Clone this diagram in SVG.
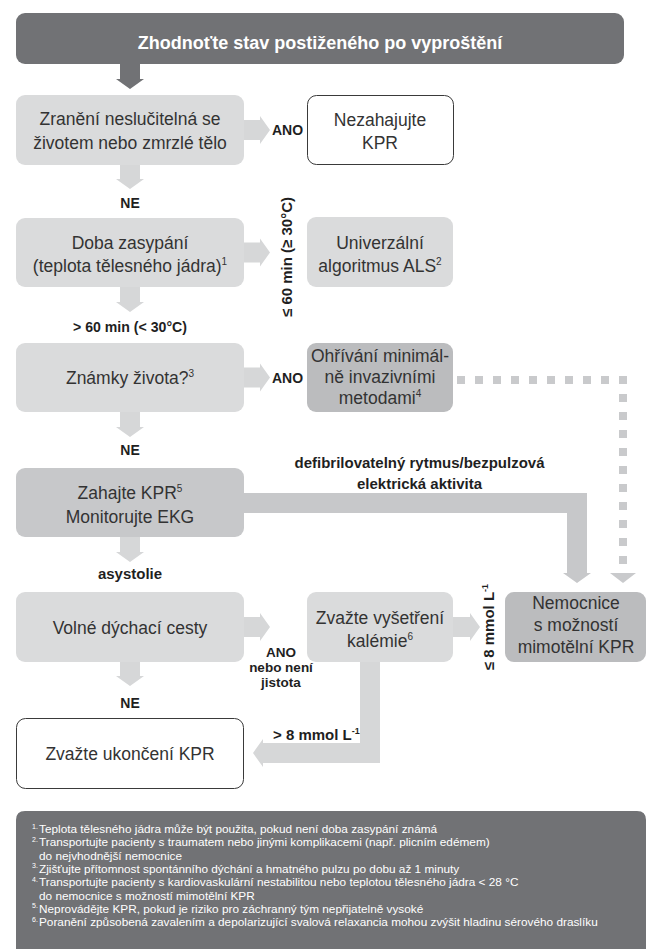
<svg xmlns="http://www.w3.org/2000/svg" width="647" height="949" viewBox="0 0 647 949">
<style>
text{font-family:"Liberation Sans",Arial,Helvetica,sans-serif}
.nt{font-size:17.5px;fill:#333;text-anchor:middle}
.ti{font-size:18px;font-weight:bold;fill:#fff;text-anchor:middle}
.lb{font-size:14px;font-weight:bold;fill:#1f1f1f}
.lb15{font-size:15px;font-weight:bold;fill:#1f1f1f}
.lbs{font-size:13.5px;font-weight:bold;fill:#1f1f1f;text-anchor:middle}
.mid{text-anchor:middle}
.ft{font-size:11.8px;fill:#fff}
.fs{font-size:7px;fill:#fff}
.sup{font-size:10px}
.dark{fill:#717275}
.light{fill:#dadbdc}
.med{fill:#c7c8ca}
.deep{fill:#bbbcbe}
.white{fill:#fff;stroke:#3a3a3a;stroke-width:1}
.arL{fill:#d6d7d8}
.arM{fill:#c7c8ca}
.dot{fill:none;stroke:#c9cacc;stroke-width:8;stroke-dasharray:8 10}
</style>

<g id="connectors">
  <polygon id="a0" class="dark" points="120,63 140,63 140,79 144,79 130,89 116,79 120,79"/>
  <polygon id="a1" class="arL" points="243,120 260,120 260,116 270,130 260,144 260,140 243,140"/>
  <polygon id="a2" class="arL" points="120,164 140,164 140,179 144,179 130,189 116,179 120,179"/>
  <polygon id="a3" class="arL" points="243,242.5 260,242.5 260,238.5 270,252.5 260,266.5 260,262.5 243,262.5"/>
  <polygon id="a4" class="arL" points="120,286 140,286 140,302 144,302 130,312 116,302 120,302"/>
  <polygon id="a5" class="arL" points="243,367.5 260,367.5 260,363.5 270,377.5 260,391.5 260,387.5 243,387.5"/>
  <polygon id="a6" class="arL" points="120,411 140,411 140,427 144,427 130,437 116,427 120,427"/>
  <polygon id="a7" class="arM" points="243,493 587,493 587,573 591,573 577,583 563,573 567,573 567,513 243,513"/>
  <path id="a8" class="dot" d="M457,380 H623 V566"/>
  <polygon id="a8h" fill="#c9cacc" points="610,573 636,573 623,583"/>
  <polygon id="a9" class="arL" points="120,536 140,536 140,552 144,552 130,562 116,552 120,552"/>
  <polygon id="a10" class="arL" points="243,617 260,617 260,613 270,627 260,641 260,637 243,637"/>
  <polygon id="a11" class="arL" points="120,661 140,661 140,676 144,676 130,686 116,676 120,676"/>
  <polygon id="a12" class="arL" points="452,617 470,617 470,613 480,627 470,641 470,637 452,637"/>
  <polygon id="a13" class="arL" points="360,661 380,661 380,763 263,763 263,767 253,753 263,739 263,743 360,743"/>

  <text class="lb" x="272" y="135">ANO</text>
  <text class="lb mid" x="130" y="208">NE</text>
  <text class="lb mid" transform="translate(291.5,257) rotate(-90)" style="font-size:15px">≤ 60 min (≥ 30°C)</text>
  <text class="lb15 mid" x="130" y="332" textLength="114" lengthAdjust="spacingAndGlyphs">&gt; 60 min (&lt; 30°C)</text>
  <text class="lb" x="272" y="382.5">ANO</text>
  <text class="lb mid" x="130" y="455">NE</text>
  <text class="lb15 mid" x="419.5" y="468">defibrilovatelný rytmus/bezpulzová</text>
  <text class="lb15 mid" x="419.5" y="489">elektrická aktivita</text>
  <text class="lb15 mid" x="130" y="579">asystolie</text>
  <text class="lbs" x="281" y="657">ANO</text>
  <text class="lbs" x="281" y="672.2">nebo není</text>
  <text class="lbs" x="281" y="687.4">jistota</text>
  <text class="lb15 mid" transform="translate(494,627) rotate(-90)">≤ 8 mmol L<tspan dy="-6" style="font-size:9px">-1</tspan></text>
  <text class="lb mid" x="130" y="708">NE</text>
  <text class="lb15" x="273" y="740">&gt; 8 mmol L<tspan dy="-6" style="font-size:9px">-1</tspan></text>
</g>

<g id="n0">
  <rect class="dark" x="16" y="13" width="608" height="51" rx="9"/>
  <text class="ti" x="320" y="48.5">Zhodnoťte stav postiženého po vyproštění</text>
</g>
<g id="n1">
  <rect class="light" x="16" y="95" width="228" height="70" rx="9"/>
  <text class="nt" x="130" y="124.5">Zranění neslučitelná se</text>
  <text class="nt" x="130" y="148.5">životem nebo zmrzlé tělo</text>
</g>
<g id="n2">
  <rect class="white" x="307.5" y="95.5" width="146" height="69" rx="9"/>
  <text class="nt" x="380" y="125.5">Nezahajujte</text>
  <text class="nt" x="380" y="148.5">KPR</text>
</g>
<g id="n3">
  <rect class="light" x="16" y="218" width="228" height="69" rx="9"/>
  <text class="nt" x="130" y="248.5">Doba zasypání</text>
  <text class="nt" x="130" y="271.5">(teplota tělesného jádra)<tspan class="sup" dy="-7">1</tspan></text>
</g>
<g id="n4">
  <rect class="light" x="307" y="217" width="146" height="70" rx="9"/>
  <text class="nt" x="380" y="248.5">Univerzální</text>
  <text class="nt" x="380" y="271.5">algoritmus ALS<tspan class="sup" dy="-7">2</tspan></text>
</g>
<g id="n5">
  <rect class="light" x="16" y="343" width="228" height="69" rx="9"/>
  <text class="nt" x="130" y="384">Známky života?<tspan class="sup" dy="-7">3</tspan></text>
</g>
<g id="n6">
  <rect class="deep" x="307" y="343" width="146" height="69" rx="9"/>
  <text class="nt" x="380" y="362">Ohřívání minimál-</text>
  <text class="nt" x="380" y="383">ně invazivními</text>
  <text class="nt" x="380" y="404">metodami<tspan class="sup" dy="-7">4</tspan></text>
</g>
<g id="n7">
  <rect class="med" x="16" y="468" width="228" height="69" rx="9"/>
  <text class="nt" x="130" y="498.5">Zahajte KPR<tspan class="sup" dy="-7">5</tspan></text>
  <text class="nt" x="130" y="522.5">Monitorujte EKG</text>
</g>
<g id="n8">
  <rect class="light" x="16" y="592" width="228" height="70" rx="9"/>
  <text class="nt" x="130" y="633.5">Volné dýchací cesty</text>
</g>
<g id="n9">
  <rect class="light" x="307" y="592" width="146" height="70" rx="9"/>
  <text class="nt" x="380" y="624">Zvažte vyšetření</text>
  <text class="nt" x="380" y="647">kalémie<tspan class="sup" dy="-7">6</tspan></text>
</g>
<g id="n10">
  <rect class="deep" x="505" y="592" width="141" height="70" rx="9"/>
  <text class="nt" x="576" y="609">Nemocnice</text>
  <text class="nt" x="576" y="631">s možností</text>
  <text class="nt" x="576" y="653">mimotělní KPR</text>
</g>
<g id="n11">
  <rect class="white" x="16.5" y="718.5" width="227" height="70" rx="9"/>
  <text class="nt" x="130" y="760">Zvažte ukončení KPR</text>
</g>

<g id="footer">
  <path class="dark" d="M25,811 H637 Q646,811 646,820 V960 H16 V820 Q16,811 25,811 Z"/>
  <text class="fs" x="32" y="828.5">1.</text>
  <text class="ft" x="39" y="833">Teplota tělesného jádra může být použita, pokud není doba zasypání známá</text>
  <text class="fs" x="32" y="841.8">2.</text>
  <text class="ft" x="39" y="846.3">Transportujte pacienty s traumatem nebo jinými komplikacemi (např. plicním edémem)</text>
  <text class="ft" x="39" y="859.6">do nejvhodnější nemocnice</text>
  <text class="fs" x="32" y="868.4">3.</text>
  <text class="ft" x="39" y="872.9">Zjišťujte přítomnost spontánního dýchání a hmatného pulzu po dobu až 1 minuty</text>
  <text class="fs" x="32" y="881.7">4.</text>
  <text class="ft" x="39" y="886.2">Transportujte pacienty s kardiovaskulární nestabilitou nebo teplotou tělesného jádra &lt; 28 °C</text>
  <text class="ft" x="39" y="899.5">do nemocnice s možností mimotělní KPR</text>
  <text class="fs" x="32" y="908.3">5.</text>
  <text class="ft" x="39" y="912.8">Neprovádějte KPR, pokud je riziko pro záchranný tým nepřijatelně vysoké</text>
  <text class="fs" x="32" y="921.6">6.</text>
  <text class="ft" x="39" y="926.1">Poranění způsobená zavalením a depolarizující svalová relaxancia mohou zvýšit hladinu sérového draslíku</text>
</g>
</svg>
